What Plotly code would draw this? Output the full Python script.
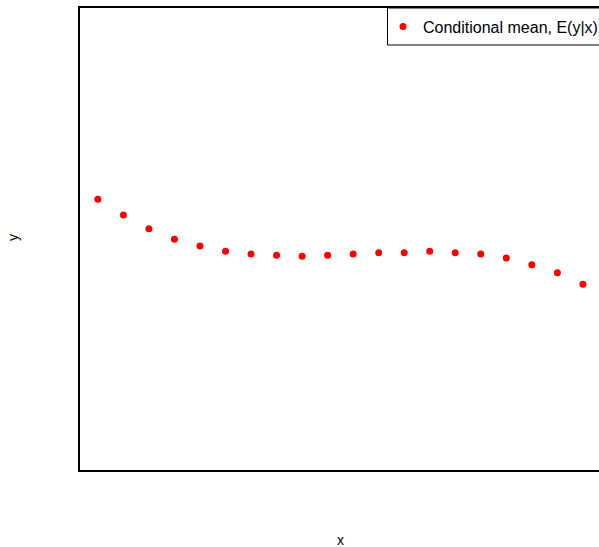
import plotly.graph_objects as go

x_vals = list(range(1, 21))
cond_mean = [5.859, 5.519, 5.223, 4.994, 4.848, 4.734, 4.675, 4.647, 4.626, 4.647,
             4.675, 4.703, 4.703, 4.734, 4.703, 4.675, 4.589, 4.444, 4.271, 4.019]
series_name = "Conditional mean, E(y|x)"

FONT = "Liberation Sans, Arial, sans-serif"
L, T, B, W, H = 80, 8, 77, 599, 547
PW, PH = W - L, H - T - B


def px(xp):
    return (xp - L) / PW


def py(yp):
    return (H - B - yp) / PH


fig = go.Figure()
fig.add_trace(go.Scatter(
    x=x_vals, y=cond_mean, mode="markers", name=series_name,
    marker=dict(color="#ff0000", size=7, line=dict(width=0)),
    showlegend=True,
))

fig.update_layout(
    width=W, height=H,
    margin=dict(l=L, r=0, t=T, b=B, autoexpand=False),
    paper_bgcolor="white", plot_bgcolor="white",
    font=dict(family=FONT, size=15, color="black"),
    showlegend=True,
    legend=dict(
        x=px(383), xanchor="left", y=py(9.5), yanchor="top",
        borderwidth=0, bgcolor="rgba(0,0,0,0)",
        font=dict(family=FONT, size=16, color="black"),
        itemwidth=30,
    ),
    shapes=[
        dict(type="rect", xref="paper", yref="paper",
             x0=px(387.5), x1=px(640), y0=py(45), y1=py(8),
             line=dict(color="black", width=1), fillcolor="white", layer="above"),
    ],
    xaxis=dict(range=[0.3, 20.63], showgrid=False, zeroline=False,
               showticklabels=False, ticks="", showline=True,
               linecolor="black", linewidth=1.5, mirror=True),
    yaxis=dict(range=[0, 10], showgrid=False, zeroline=False,
               showticklabels=False, ticks="", showline=True,
               linecolor="black", linewidth=1.5, mirror=False),
    annotations=[
        dict(text="x", xref="paper", yref="paper", x=px(340),
             y=py(540), xanchor="center", yanchor="middle",
             showarrow=False, font=dict(family=FONT, size=14)),
        dict(text="y", xref="paper", yref="paper", x=px(13),
             y=py(238), xanchor="center", yanchor="middle",
             textangle=-90, showarrow=False, font=dict(family=FONT, size=14)),
    ],
)

fig.write_html("out.html")
